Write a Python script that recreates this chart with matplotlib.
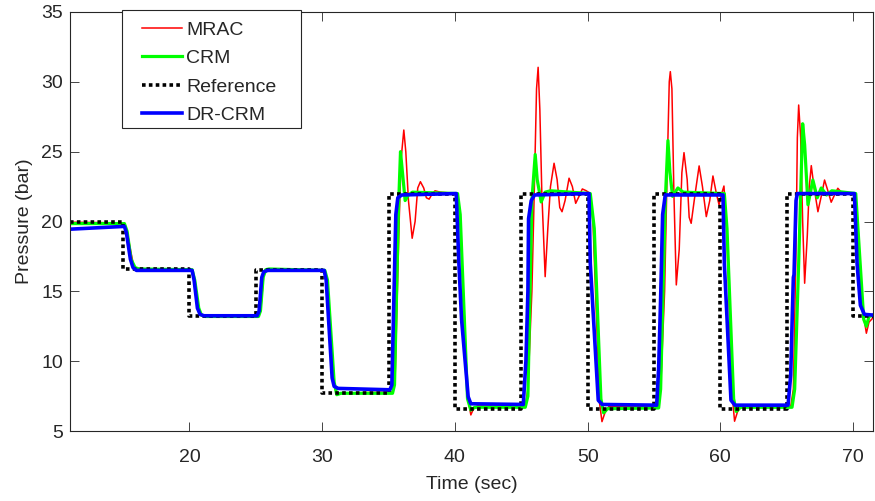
import matplotlib
matplotlib.use("Agg")
import matplotlib.pyplot as plt
from matplotlib.patches import Rectangle

plt.rcParams['font.family'] = ['Liberation Sans', 'DejaVu Sans']

# Reference step signal
ref_t = [11, 15, 20, 25, 30, 35, 40, 45, 50, 55, 60, 65, 70, 71.5]
ref_y = [20.0, 16.6, 13.2, 16.5, 7.7, 22.0, 6.6, 22.0, 6.6, 22.0, 6.6, 22.0, 13.2, 13.2]

# DR-CRM (blue)
drcrm_t = [11, 15.1, 15.25, 15.55, 15.75, 16.0, 20.2, 20.35, 20.6, 20.8, 21.1, 25.1, 25.25, 25.45,
           25.6, 25.9, 30.15, 30.3, 30.75, 30.9, 31.2, 35.1, 35.25, 35.55, 35.7, 36.0, 40.1, 40.3,
           40.5, 41.0, 41.2, 45.15, 45.35, 45.5, 45.55, 45.75, 46.0, 50.1, 50.2, 50.8, 51.1, 55.2,
           55.35, 55.5, 55.65, 55.85, 60.2, 60.3, 60.8, 61.1, 65.1, 65.3, 65.42, 65.5, 65.55, 65.7,
           65.8, 70.1, 70.3, 70.55, 70.85, 71.5]
drcrm_y = [19.45, 19.65, 19.2, 17.3, 16.7, 16.5, 16.5, 15.8, 13.8, 13.35, 13.25, 13.25, 13.6, 16.0,
           16.4, 16.5, 16.5, 15.8, 8.8, 8.2, 8.05, 7.95, 8.3, 20.5, 21.7, 21.9, 22.0, 17.0,
           13.0, 7.45, 6.95, 6.9, 10.0, 15.0, 20.2, 21.5, 21.9, 22.0, 17.0, 7.2, 6.9, 6.85,
           9.5, 14.5, 20.5, 21.9, 21.9, 17.0, 7.2, 6.85, 6.85, 9.0, 13.3, 16.0, 16.2, 21.5,
           22.0, 22.0, 17.0, 14.0, 13.35, 13.3]

# CRM (green)
crm_t = [11, 15.1, 15.3, 15.6, 15.9, 16.2, 20.2, 20.4, 20.7, 20.9, 21.2, 25.2, 25.35, 25.55, 25.75,
         26.0, 30.2, 30.4, 30.9, 31.1, 31.4, 35.3, 35.45, 35.75, 35.9, 36.05, 36.25, 36.5, 36.8,
         40.2, 40.4, 40.95, 41.2, 41.5, 45.3, 45.5, 45.8, 46.05, 46.2, 46.5, 46.8, 47.2, 50.2,
         50.5, 51.0, 51.2, 51.5, 55.35, 55.5, 55.85, 56.05, 56.2, 56.4, 56.8, 57.2, 60.3, 60.5,
         61.0, 61.2, 61.5, 65.4, 65.6, 65.9, 66.05, 66.2, 66.35, 66.6, 66.97, 67.3, 67.6, 68.0,
         68.4, 70.2, 70.4, 70.8, 71.0, 71.2, 71.5]
crm_y = [19.85, 19.85, 19.3, 17.3, 16.7, 16.6, 16.55, 15.8, 13.8, 13.3, 13.2, 13.2, 13.6, 16.0, 16.55,
         16.6, 16.5, 15.8, 8.5, 7.6, 7.7, 7.7, 8.3, 21.0, 25.0, 23.5, 21.5, 21.9, 22.1,
         22.0, 20.5, 7.3, 6.5, 6.7, 6.7, 7.5, 21.5, 24.8, 23.0, 21.4, 22.1, 22.2, 22.0,
         19.5, 7.3, 6.3, 6.6, 6.65, 8.0, 21.5, 25.8, 23.5, 21.8, 22.4, 22.1, 22.0, 19.5,
         7.3, 6.4, 6.7, 6.7, 8.0, 17.0, 22.0, 27.0, 25.5, 21.2, 22.97, 21.7, 22.4, 21.9,
         22.2, 22.0, 19.0, 13.0, 12.5, 13.2, 13.3]

# MRAC (red)
mrac_t = [11, 15.1, 15.3, 15.55, 15.8, 16.1, 20.2, 20.4, 20.7, 20.9, 25.2, 25.4, 25.6, 25.8, 30.2,
          30.4, 30.9, 31.1, 35.3, 35.5, 35.8, 35.95, 36.15, 36.3, 36.5, 36.78, 37.0, 37.2, 37.4,
          37.65, 37.85, 38.06, 38.3, 38.5, 38.9, 40.2, 40.4, 40.95, 41.2, 41.4, 41.7, 45.3, 45.5,
          45.8, 46.0, 46.15, 46.27, 46.4, 46.55, 46.8, 47.0, 47.2, 47.47, 47.7, 47.9, 48.07, 48.3,
          48.6, 48.85, 49.1, 49.35, 49.6, 49.9, 50.2, 50.4, 50.9, 51.08, 51.3, 51.6, 55.3, 55.5,
          55.8, 56.0, 56.15, 56.23, 56.35, 56.5, 56.68, 56.9, 57.1, 57.26, 57.5, 57.65, 57.8, 58.1,
          58.4, 58.65, 58.94, 59.2, 59.44, 59.7, 59.9, 60.1, 60.27, 60.45, 60.9, 61.07, 61.3, 61.6,
          65.3, 65.5, 65.7, 65.8, 65.9, 66.05, 66.2, 66.35, 66.55, 66.7, 66.85, 67.05, 67.35, 67.6,
          67.85, 68.1, 68.35, 68.6, 68.85, 69.2, 70.2, 70.4, 70.75, 71.0, 71.2, 71.5]
mrac_y = [19.95, 19.9, 19.3, 18.0, 16.8, 16.5, 16.5, 15.8, 13.7, 13.3, 13.25, 14.0, 16.2, 16.5, 16.5,
          15.6, 8.3, 7.7, 7.8, 9.0, 20.0, 24.5, 26.55, 25.0, 21.5, 18.8, 20.0, 22.4, 22.85,
          22.4, 21.7, 21.6, 22.0, 22.2, 22.1, 22.0, 20.5, 7.5, 6.15, 6.6, 6.8, 6.75, 8.0,
          15.0, 23.0, 29.5, 31.04, 28.0, 22.0, 16.05, 19.5, 22.5, 24.17, 23.0, 21.0, 20.7, 21.5,
          23.1, 22.5, 21.3, 21.8, 22.33, 22.2, 22.0, 20.0, 7.0, 5.67, 6.3, 6.75, 6.75, 8.0,
          15.0, 24.0, 30.0, 30.73, 29.5, 22.0, 15.46, 18.0, 23.5, 24.93, 23.0, 20.3, 19.87, 22.0,
          23.98, 22.5, 20.35, 21.5, 23.26, 22.0, 21.2, 22.0, 22.54, 20.0, 7.5, 5.7, 6.4, 6.75,
          6.75, 8.0, 18.0, 26.0, 28.34, 26.0, 20.0, 15.58, 19.0, 22.5, 24.0, 22.5, 20.7, 21.8,
          22.97, 22.2, 21.38, 21.9, 22.38, 22.0, 22.0, 19.0, 13.5, 12.0, 12.8, 13.1]

x_ticks = [20, 30, 40, 50, 60, 70]
y_ticks = [5, 10, 15, 20, 25, 30, 35]

FS = 14
W, H = 875, 501

fig = plt.figure(figsize=(8.75, 5.01), dpi=100)
ax = fig.add_axes([70 / W, (H - 431) / H, 803 / W, 419 / H])

ax.plot(mrac_t, mrac_y, color=(1, 0, 0), lw=1.1, label='MRAC')
ax.plot(crm_t, crm_y, color=(0, 1, 0), lw=2.3, label='CRM')
ax.plot(ref_t, ref_y, color='black', lw=2.6, drawstyle='steps-post',
        linestyle=(0, (1.0, 0.9)), dash_capstyle='butt', label='Reference')
ax.plot(drcrm_t, drcrm_y, color=(0, 0, 1), lw=2.6, label='DR-CRM')

ax.set_xlim(11, 71.5)
ax.set_ylim(5, 35)
ax.set_xticks(x_ticks)
ax.set_yticks(y_ticks)
tc = '#262626'
ax.tick_params(direction='in', length=6.5, width=0.6, colors=tc, labelsize=FS,
               top=True, right=True)
ax.tick_params(axis='x', pad=13)
ax.tick_params(axis='y', pad=5)
for s in ax.spines.values():
    s.set_color(tc)
    s.set_linewidth(0.8)

ax.set_xlabel('Time (sec)', fontsize=FS, color=tc, labelpad=7.5)
ax.set_ylabel('Pressure (bar)', fontsize=FS, color=tc, labelpad=6)

# legend frame (MATLAB-style box with wide right margin)
frame = Rectangle((122 / W, 1 - 128 / H), 179 / W, 118 / H, transform=fig.transFigure,
                  facecolor='white', edgecolor=tc, linewidth=0.8, zorder=2)
fig.add_artist(frame)

handles, labels = ax.get_legend_handles_labels()
leg = fig.legend(handles, labels, loc='upper left', bbox_to_anchor=(142 / W, 1 - 21 / H),
                 bbox_transform=fig.transFigure, fontsize=FS, frameon=False,
                 handlelength=2.06, handletextpad=0.2, labelspacing=0.56,
                 borderpad=0, borderaxespad=0)
leg.set_zorder(3)
for t in leg.get_texts():
    t.set_color(tc)

fig.savefig('out.png', dpi=100)
